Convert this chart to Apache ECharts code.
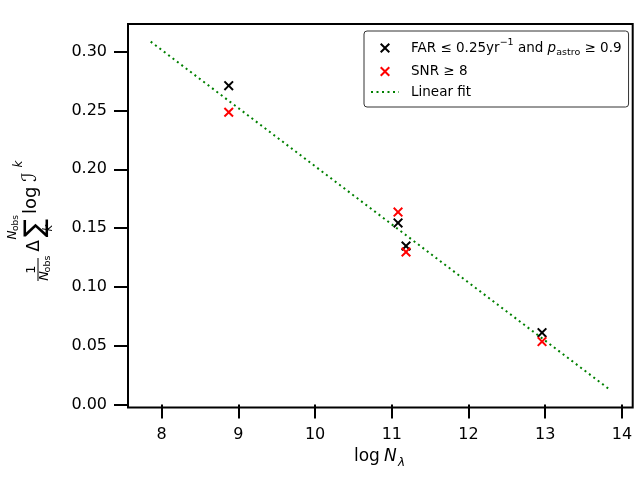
<!DOCTYPE html>
<html><head><meta charset="utf-8">
<script src="https://cdn.jsdelivr.net/npm/echarts@6/dist/echarts.min.js"></script>
<style>html,body{margin:0;padding:0;background:#fff}#c{width:640px;height:480px}</style>
</head><body><div id="c"></div>
<script>
// ---- data ----
const farX = [8.874, 11.081, 11.185, 12.958];
const farY = [0.2711, 0.1544, 0.1348, 0.0611];
const snrX = [8.874, 11.081, 11.185, 12.958];
const snrY = [0.2485, 0.1636, 0.1297, 0.0535];
const fitX = [7.857, 13.835];
const fitY = [0.3085, 0.0130];
const xTicks = [8, 9, 10, 11, 12, 13, 14];
const yTicks = [0.00, 0.05, 0.10, 0.15, 0.20, 0.25, 0.30];
const seriesNames = ['FAR', 'SNR', 'Linear fit'];

const FONT = 'DejaVu Sans';
const CROSS = 'path://M0,1.4L1.4,0L5,3.6L8.6,0L10,1.4L6.4,5L10,8.6L8.6,10L5,6.4L1.4,10L0,8.6L3.6,5Z';
const zip = (a, b) => a.map((v, i) => [v, b[i]]);

function txt(text, x, y, size, opt) {
  opt = opt || {};
  return {
    type: 'text', x: x, y: y, silent: true,
    style: {
      text: text, fontSize: size, fontFamily: opt.family || FONT,
      fontStyle: opt.italic ? 'italic' : 'normal',
      fill: '#000',
      align: opt.align || 'center', textAlign: opt.align || 'center',
      verticalAlign: 'middle', textVerticalAlign: 'middle'
    }
  };
}

const chart = echarts.init(document.getElementById('c'), null, {renderer: 'canvas'});
chart.setOption({
  animation: false,
  backgroundColor: '#fff',
  grid: {left: 128, right: 7.3, top: 24, bottom: 72.5, show: true,
         borderColor: '#000', borderWidth: 2, backgroundColor: 'transparent',
         containLabel: false, outerBoundsMode: 'none'},
  xAxis: {
    type: 'value', min: 7.561, max: 14.14,
    axisLine: {show: false},
    splitLine: {show: false},
    axisTick: {show: true, inside: false, length: 14, lineStyle: {color: '#000', width: 2},
               customValues: xTicks},
    axisLabel: {customValues: xTicks, margin: 19, color: '#000', fontFamily: FONT, fontSize: 16,
                formatter: v => String(v)}
  },
  yAxis: {
    type: 'value', min: -0.0025, max: 0.3235,
    axisLine: {show: false},
    splitLine: {show: false},
    axisTick: {show: true, inside: false, length: 14, lineStyle: {color: '#000', width: 2},
               customValues: yTicks},
    axisLabel: {customValues: yTicks, margin: 21, color: '#000', fontFamily: FONT, fontSize: 16,
                formatter: v => v.toFixed(2)}
  },
  legend: {
    orient: 'vertical', left: 364, top: 31,
    padding: [7, 7, 8, 6],
    itemGap: 6.5, itemWidth: 28, itemHeight: 10,
    backgroundColor: '#fff', borderColor: '#333', borderWidth: 1, borderRadius: 3,
    data: [seriesNames[0], seriesNames[1],
           {name: seriesNames[2], itemStyle: {color: 'rgba(0,0,0,0)', borderWidth: 0}}],
    formatter: function (name) {
      if (name === 'FAR') return '{t|FAR ≤ 0.25yr}{sup|−1}{t| and }{it|p}{sub|astro}{t| ≥ 0.9}';
      if (name === 'SNR') return '{r2|SNR ≥ 8}';
      return '{r3|Linear fit}';
    },
    textStyle: {
      fontFamily: FONT, fontSize: 13.5, color: '#000', padding: [0, 0, 0, 7],
      rich: {
        t: {fontFamily: FONT, fontSize: 13.5, lineHeight: 20, color: '#000'},
        sup: {fontFamily: FONT, fontSize: 9.5, lineHeight: 10, verticalAlign: 'top', color: '#000'},
        it: {fontFamily: FONT, fontSize: 13.5, lineHeight: 20, fontStyle: 'italic', color: '#000'},
        sub: {fontFamily: FONT, fontSize: 9.5, lineHeight: 10, verticalAlign: 'bottom', color: '#000'},
        r2: {fontFamily: FONT, fontSize: 13.5, lineHeight: 20, color: '#000'},
        r3: {fontFamily: FONT, fontSize: 13.5, lineHeight: 13, color: '#000'}
      }
    }
  },
  series: [
    {name: seriesNames[0], type: 'scatter', data: zip(farX, farY), symbol: CROSS, symbolSize: 10,
     itemStyle: {color: '#000', opacity: 1}, z: 3},
    {name: seriesNames[1], type: 'scatter', data: zip(snrX, snrY), symbol: CROSS, symbolSize: 10,
     itemStyle: {color: '#ff0000', opacity: 1}, z: 4},
    {name: seriesNames[2], type: 'line', data: zip(fitX, fitY), symbol: 'none',
     lineStyle: {color: '#008000', width: 2, type: [2, 3.5], cap: 'butt'},
     itemStyle: {color: '#008000'}, z: 5}
  ],
  graphic: [
    // x-axis label: log N_lambda
    txt('log', 354, 457, 17, {align: 'left'}),
    txt('N', 384, 457, 17, {align: 'left', italic: true}),
    txt('λ', 398, 463, 12, {align: 'left', italic: true}),
    // y-axis label (rotated)
    {
      type: 'group', x: 37, y: 220, rotation: Math.PI / 2, silent: true,
      children: [
        txt('1', -49.5, -5, 13),
        {type: 'line', shape: {x1: -61, y1: 1, x2: -38, y2: 1}, style: {stroke: '#000', lineWidth: 1}},
        txt('N', -56, 8, 13, {italic: true}),
        txt('obs', -44, 11, 9.5),
        txt('Δ', -26, -2, 17),
        txt('∑', -8, -1, 27),
        txt('N', -15, -24, 12, {italic: true}),
        txt('obs', -3, -21, 9),
        txt('k', -8, 12, 12, {italic: true}),
        txt('log', 6, -6, 18, {align: 'left'}),
        txt('ℐ', 43, -6, 20),
        txt('k', 56, -18, 12, {italic: true})
      ]
    }
  ]
});
</script>
</body></html>
